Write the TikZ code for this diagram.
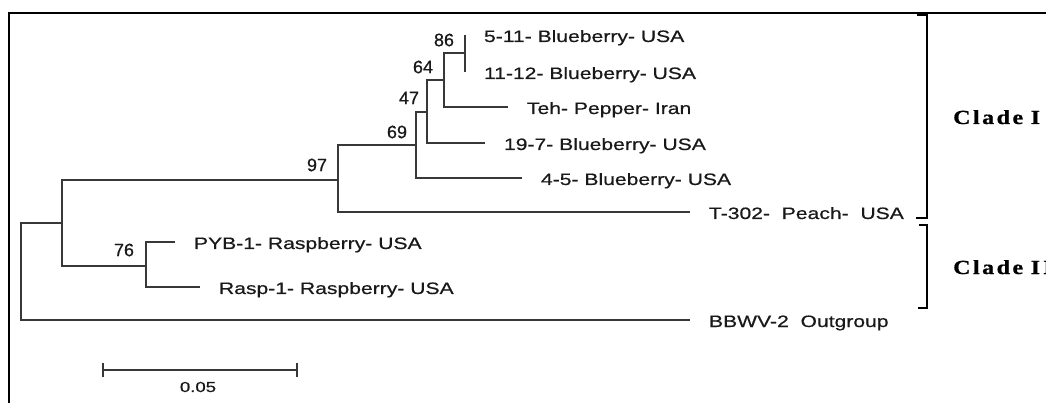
\documentclass[tikz,border=0pt]{standalone}
\usepackage{fontspec}
\setmainfont{Liberation Sans}
\newfontfamily\lblfont[FakeStretch=1.28,FakeBold=0.5]{Liberation Sans}
\newfontfamily\bootfont[FakeBold=0.6]{Liberation Sans}
\newfontfamily\cladefont[FakeStretch=1.2,FakeBold=0.8]{Liberation Serif}
\begin{document}
\begin{tikzpicture}[x=1pt,y=-1pt,
  branch/.style={line width=1.9pt, draw=black!78},
  leaf/.style={anchor=west, inner sep=0pt, outer xsep=19pt, outer ysep=0pt,
    text height=14pt, text depth=0pt, text=black!90,
    font=\lblfont\fontsize{16.5}{18}\selectfont},
  boot/.style={inner sep=0pt, text=black!90, font=\bootfont\fontsize{18}{20}\selectfont},
  scalelbl/.style={inner sep=0pt, text=black!90, font=\lblfont\fontsize{14.5}{16}\selectfont},
  clade/.style={inner sep=0pt, anchor=base west, text=black,
    font=\cladefont\bfseries\fontsize{20}{22}\selectfont},
  bracket/.style={line width=2.8pt, draw=black},
  frameline/.style={line width=2.4pt, draw=black}]
\useasboundingbox (0,0) rectangle (1046,403);
\clip (0,0) rectangle (1046,403);
\fill[white] (0,0) rectangle (1046,403);
% frame
\coordinate (f1) at (1046,13.3);
\coordinate (f2) at (8.7,13.3);
\coordinate (f3) at (8.7,403);
\draw[frameline] (f1) -- (f2) -- (f3);
% internal nodes
\coordinate (root) at (21,271);
\coordinate (nA) at (62,223);
\coordinate (n97) at (338,180);
\coordinate (n76) at (146,266);
\coordinate (n69) at (416,145);
\coordinate (n47) at (427,112);
\coordinate (n64) at (444,80);
\coordinate (n86) at (465,53);
% leaves
\node[leaf] (l511) at (465,35) {5-11- Blueberry- USA};
\node[leaf] (l1112) at (465,72) {11-12- Blueberry- USA};
\node[leaf] (lteh) at (508,107) {Teh- Pepper- Iran};
\node[leaf] (l197) at (485,143) {19-7- Blueberry- USA};
\node[leaf] (l45) at (522,178) {4-5- Blueberry- USA};
\node[leaf] (lt302) at (690,212) {T-302-\ \ Peach-\ \ USA};
\node[leaf] (lpyb) at (175,242) {PYB-1- Raspberry- USA};
\node[leaf] (lrasp) at (200,287) {Rasp-1- Raspberry- USA};
\node[leaf] (lbb) at (690,320) {BBWV-2\ \ Outgroup};
% branches
\draw[branch] (root) |- (nA);
\draw[branch] (root) |- (lbb.west);
\draw[branch] (nA) |- (n97);
\draw[branch] (nA) |- (n76);
\draw[branch] (n76) |- (lpyb.west);
\draw[branch] (n76) |- (lrasp.west);
\draw[branch] (n97) |- (n69);
\draw[branch] (n97) |- (lt302.west);
\draw[branch] (n69) |- (n47);
\draw[branch] (n69) |- (l45.west);
\draw[branch] (n47) |- (n64);
\draw[branch] (n47) |- (l197.west);
\draw[branch] (n64) |- (n86);
\draw[branch] (n64) |- (lteh.west);
\draw[branch] (n86) |- (l511.west);
\draw[branch] (n86) |- (l1112.west);
% bootstrap values
\node[boot] (b86) at (444,40) {86};
\node[boot] (b64) at (423,67) {64};
\node[boot] (b47) at (409,98) {47};
\node[boot] (b69) at (397,132) {69};
\node[boot] (b97) at (317,165) {97};
\node[boot] (b76) at (124,250) {76};
% scale bar
\coordinate (sb1) at (103,370);
\coordinate (sb2) at (297,370);
\draw[branch] (sb1) -- (sb2);
\draw[branch] ([yshift=-7pt]sb1) -- ([yshift=7pt]sb1);
\draw[branch] ([yshift=-7pt]sb2) -- ([yshift=7pt]sb2);
\node[scalelbl] (sbl) at (198,387) {0.05};
% clade brackets
\coordinate (c1a) at (917,15);
\coordinate (c1b) at (927,15);
\coordinate (c1c) at (927,218);
\coordinate (c1d) at (916,218);
\draw[bracket] (c1a) -- (c1b) -- (c1c) -- (c1d);
\coordinate (c2a) at (919,225);
\coordinate (c2b) at (927,225);
\coordinate (c2c) at (927,308);
\coordinate (c2d) at (918,308);
\draw[bracket] (c2a) -- (c2b) -- (c2c) -- (c2d);
\node[clade] (cl1) at (953,124) {C\kern2.5pt l\kern2.5pt a\kern2.5pt d\kern2.5pt e\kern1.5pt\ I};
\node[clade] (cl2) at (953,274) {C\kern2.5pt l\kern2.5pt a\kern2.5pt d\kern2.5pt e\kern1.5pt\ I\kern3pt I};
\end{tikzpicture}
\end{document}
